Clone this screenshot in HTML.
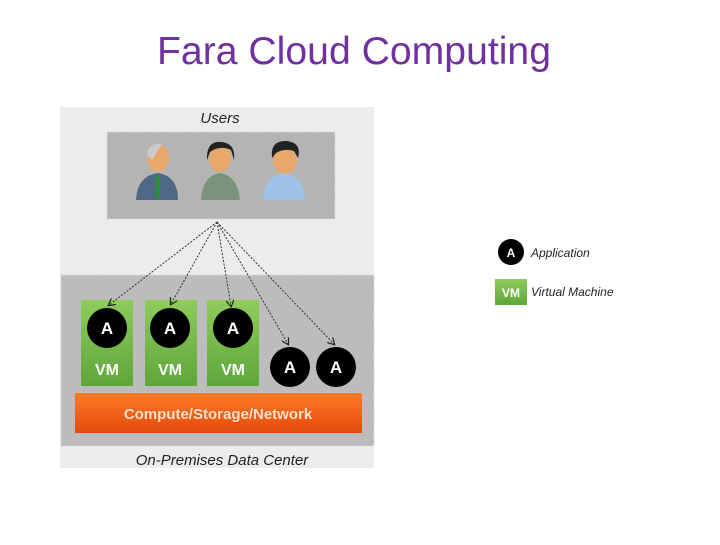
<!DOCTYPE html>
<html><head><meta charset="utf-8"><style>
body{margin:0;width:720px;height:540px;background:#fff;overflow:hidden;font-family:"Liberation Sans",sans-serif}
</style></head><body>
<svg width="720" height="540" xmlns="http://www.w3.org/2000/svg">
<defs>
<linearGradient id="g" x1="0" y1="0" x2="0" y2="1"><stop offset="0" stop-color="#8fcc5c"/><stop offset="1" stop-color="#5ea63a"/></linearGradient>
<linearGradient id="o" x1="0" y1="0" x2="0" y2="1"><stop offset="0" stop-color="#ff7a2a"/><stop offset="1" stop-color="#e34a0a"/></linearGradient>
<marker id="ar" markerWidth="8" markerHeight="8" refX="6" refY="4" orient="auto"><path d="M0,0 L7,4 L0,8" fill="none" stroke="#222" stroke-width="1.2"/></marker>
</defs>
<text x="354" y="64" text-anchor="middle" font-family="Liberation Sans" font-size="39" fill="#7030a0" textLength="394" lengthAdjust="spacingAndGlyphs">Fara Cloud Computing</text>
<rect x="60" y="107" width="314" height="361" fill="#ececec"/>
<text x="220" y="123" text-anchor="middle" font-style="italic" font-size="15" fill="#222">Users</text>
<rect x="107" y="132" width="228" height="87" fill="#b4b4b4" stroke="#ddd" stroke-dasharray="3,2"/>
<g>
<path d="M136,200 Q137,176 158,173 Q178,176 178,200 Z" fill="#4e6785"/>
<rect x="155" y="176" width="5" height="22" fill="#2f8a3a"/>
<ellipse cx="158" cy="158" rx="11" ry="14" fill="#e8a86a"/>
<path d="M147,155 Q149,142 162,144 L152,160 Z" fill="#ccc"/>
<path d="M201,200 Q202,176 220,173 Q238,176 240,200 Z" fill="#7b937b"/>
<ellipse cx="220" cy="158" rx="11" ry="14" fill="#e8a86a"/>
<path d="M207,160 Q206,140 222,142 Q236,144 234,160 L231,150 Q220,145 210,152 Z" fill="#222"/>
<path d="M263,200 Q264,176 284,173 Q304,176 305,200 Z" fill="#9ec2e8"/>
<ellipse cx="285" cy="160" rx="12" ry="14" fill="#e8a86a"/>
<path d="M272,158 Q270,140 287,141 Q302,143 298,158 L294,151 Q284,148 276,153 Z" fill="#222"/>
</g>
<rect x="61" y="275" width="313" height="171" fill="#bcbcbc" stroke="#ddd" stroke-dasharray="3,2"/>
<g fill="url(#g)"><rect x="81" y="300" width="52" height="86"/><rect x="145" y="300" width="52" height="86"/><rect x="207" y="300" width="52" height="86"/></g>
<g fill="#000"><circle cx="107" cy="328" r="20"/><circle cx="170" cy="328" r="20"/><circle cx="233" cy="328" r="20"/><circle cx="290" cy="367" r="20"/><circle cx="336" cy="367" r="20"/></g>
<g fill="#fff" font-weight="bold" font-size="17" text-anchor="middle"><text x="107" y="334">A</text><text x="170" y="334">A</text><text x="233" y="334">A</text><text x="290" y="373">A</text><text x="336" y="373">A</text></g>
<g fill="#fff" font-weight="bold" font-size="16" text-anchor="middle"><text x="107" y="375">VM</text><text x="170" y="375">VM</text><text x="233" y="375">VM</text></g>
<rect x="75" y="393" width="287" height="40" fill="url(#o)"/>
<text x="218" y="419" text-anchor="middle" fill="#ffe0c8" font-weight="bold" font-size="15">Compute/Storage/Network</text>
<text x="222" y="465" text-anchor="middle" font-style="italic" font-size="15" fill="#222">On-Premises Data Center</text>
<g stroke="#333" stroke-width="1" stroke-dasharray="2,1.5" fill="none" marker-end="url(#ar)">
<line x1="217" y1="222" x2="109" y2="305"/><line x1="217" y1="222" x2="171" y2="304"/><line x1="217" y1="222" x2="231" y2="306"/><line x1="217" y1="222" x2="288" y2="344"/><line x1="217" y1="222" x2="334" y2="344"/>
</g>
<circle cx="511" cy="252" r="13" fill="#000"/>
<text x="511" y="257" text-anchor="middle" fill="#fff" font-weight="bold" font-size="12">A</text>
<text x="531" y="257" font-style="italic" font-size="12" fill="#222">Application</text>
<rect x="495" y="279" width="32" height="26" fill="url(#g)"/>
<text x="511" y="297" text-anchor="middle" fill="#fff" font-weight="bold" font-size="12">VM</text>
<text x="531" y="296" font-style="italic" font-size="12" fill="#222">Virtual Machine</text>
</svg>
</body></html>
